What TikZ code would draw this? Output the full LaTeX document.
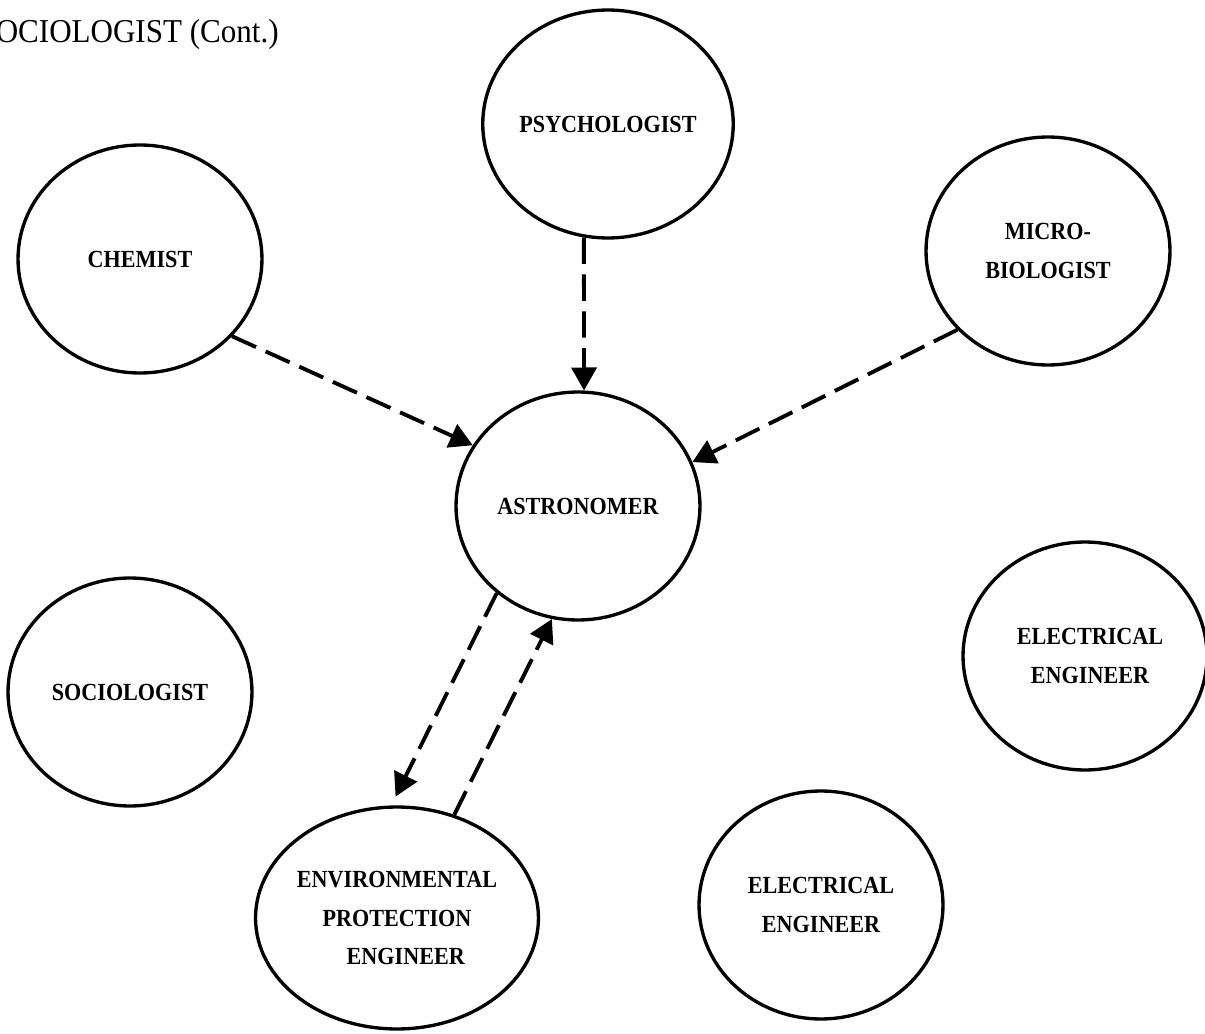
\documentclass[tikz,border=0pt]{standalone}
\usepackage{fontspec}
\setmainfont{Liberation Serif}
\newfontfamily\rolefont[FakeStretch=0.9]{Liberation Serif}
\newfontfamily\headfont[FakeStretch=0.93]{Liberation Serif}
\usetikzlibrary{shapes.geometric, arrows.meta}

\tikzset{
  job/.style={draw, ellipse, line width=1.9pt, inner sep=0pt,
    minimum width=4.88cm, minimum height=4.56cm, align=center,
    font=\rolefont\bfseries\fontsize{14}{22}\selectfont},
  flow/.style={->, line width=2.2pt, dash pattern=on 15pt off 6pt}
}

\begin{document}
\begin{tikzpicture}[x=0.02cm, y=-0.02cm, >={Triangle[length=4.6mm, width=5mm]}]
    \useasboundingbox (0,0) rectangle (1205,1034);

    % 1. Tiêu đề (bị cắt ở lề trái)
    \node[anchor=base east, inner sep=0pt, font=\headfont\fontsize{19}{22}\selectfont]
        (head) at (279,43) {SOCIOLOGIST (Cont.)};

    % 2. Các vòng tròn nghề nghiệp
    \node[job] (psych) at (608,124) {PSYCHOLOGIST};
    \node[job] (chem)  at (140,259) {CHEMIST};
    \node[job] (micro) at (1048,251) {MICRO-\\BIOLOGIST};
    \node[job] (astro) at (578,506) {ASTRONOMER};
    \node[job] (socio) at (130,692) {SOCIOLOGIST};
    \node[job] (elecA) at (1085,656) {\hspace*{0.2cm}ELECTRICAL\\\hspace*{0.2cm}ENGINEER};
    \node[job, minimum height=4.44cm] (envir) at (397,918)
        {ENVIRONMENTAL\\PROTECTION\\\hspace*{0.35cm}ENGINEER};
    \node[job] (elecB) at (821,905) {ELECTRICAL\\ENGINEER};

    % 3. Các mũi tên nét đứt
    \draw[flow] (chem.-40) -- (astro.150);
    \draw[flow] (psych.-102) -- (astro.87);
    \draw[flow] (micro.-139) -- (astro.21);
    \draw[flow, shorten >=0.2cm] (astro.-133) -- (envir.93);
    \draw[flow] (envir.61) -- (astro.-103);
\end{tikzpicture}
\end{document}
